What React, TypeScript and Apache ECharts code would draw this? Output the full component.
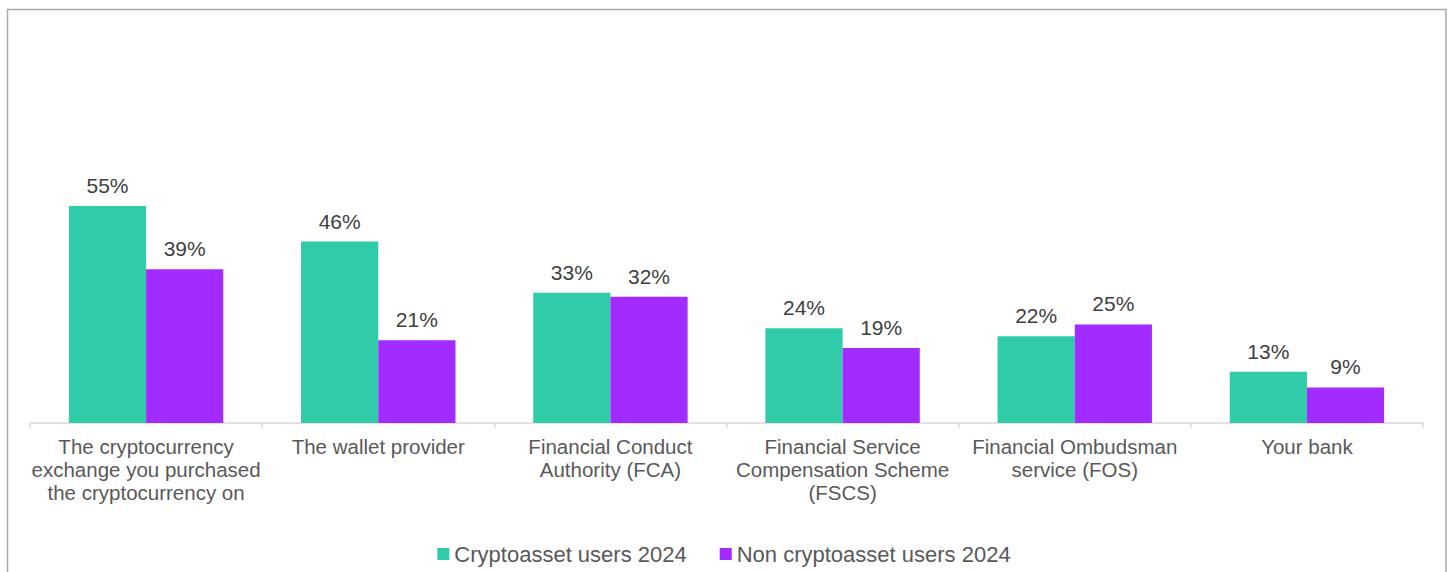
import React, { useEffect, useRef } from "react";
import * as echarts from "echarts";

const categories = [
  "The cryptocurrency\nexchange you purchased\nthe cryptocurrency on",
  "The wallet provider",
  "Financial Conduct\nAuthority (FCA)",
  "Financial Service\nCompensation Scheme\n(FSCS)",
  "Financial Ombudsman\nservice (FOS)",
  "Your bank",
];
const cryptoUsers = [55, 46, 33, 24, 22, 13];
const nonCryptoUsers = [39, 21, 32, 19, 25, 9];
const seriesNames = ["Cryptoasset users 2024", "Non cryptoasset users 2024"];

const FONT = "'Liberation Sans', Arial, sans-serif";

export default function App() {
  const ref = useRef<HTMLDivElement>(null);
  useEffect(() => {
    if (!ref.current) return;
    const chart = echarts.init(ref.current, null, { renderer: "svg" });
    const label = {
      show: true,
      position: "top" as const,
      distance: 10,
      formatter: (p: any) => p.value + "%",
      fontSize: 21,
      color: "#404040",
      fontFamily: FONT,
    };
    chart.setOption({
      animation: false,
      backgroundColor: "#ffffff",
      graphic: [
        {
          type: "rect",
          shape: { x: 7.5, y: 9.5, width: 1438.5, height: 600 },
          style: { fill: "none", stroke: "#ababab", lineWidth: 1.5 },
          silent: true,
          z: -1,
        },
      ],
      grid: { left: 30, right: 25, top: 28.5, bottom: 149, containLabel: false },
      legend: {
        data: seriesNames,
        top: 538,
        left: "center",
        itemWidth: 12,
        itemHeight: 12,
        itemGap: 33,
        icon: "rect",
        textStyle: { fontSize: 22, color: "#595959", fontFamily: FONT },
      },
      xAxis: {
        type: "category",
        data: categories,
        axisLine: { lineStyle: { color: "#d9d9d9", width: 1.5 } },
        axisTick: { show: true, length: 5, lineStyle: { color: "#d9d9d9", width: 1.5 } },
        axisLabel: {
          interval: 0,
          margin: 12,
          fontSize: 20.5,
          lineHeight: 23,
          color: "#595959",
          fontFamily: FONT,
        },
      },
      yAxis: {
        type: "value",
        min: 0,
        max: 100,
        show: false,
        splitLine: { show: false },
      },
      series: [
        {
          name: seriesNames[0],
          type: "bar",
          data: cryptoUsers,
          itemStyle: { color: "#30CBA9" },
          barGap: "0%",
          barCategoryGap: "33.5%",
          label,
        },
        {
          name: seriesNames[1],
          type: "bar",
          data: nonCryptoUsers,
          itemStyle: { color: "#A22BFF" },
          label,
        },
      ],
    });
    return () => chart.dispose();
  }, []);
  return (
    <div
      ref={ref}
      style={{ position: "absolute", left: 0, top: 0, width: 1448, height: 572 }}
    />
  );
}
